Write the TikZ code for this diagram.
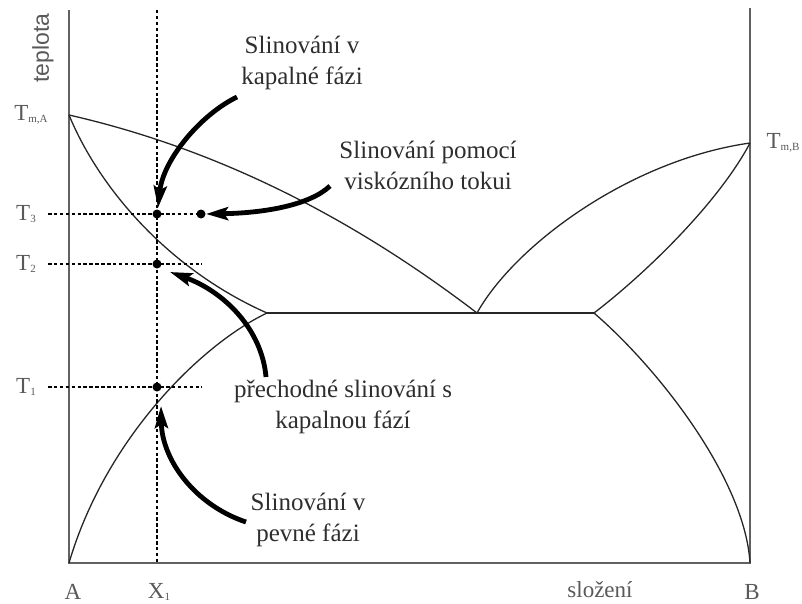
\documentclass[tikz,border=0pt]{standalone}
\usepackage{fontspec}
\setmainfont{Liberation Serif}
\newfontfamily\axsans{Liberation Sans}
\usetikzlibrary{arrows.meta}
\tikzset{
  axisline/.style={draw=black!62, line width=2pt},
  phase/.style={draw=black!85, line width=1.3pt},
  dotline/.style={draw=black, line width=2.1pt, dash pattern=on 3.5pt off 2.4pt},
  pt/.style={circle, fill=black, inner sep=0pt, minimum size=9pt},
  bigarrow/.style={draw=black, line width=4.8pt, -{Stealth[length=22pt,width=13pt,inset=4pt]}},
  lbl/.style={font=\fontsize{25}{31}\selectfont, text=black!82, align=center, inner sep=0pt},
  tl/.style={font=\fontsize{23}{26}\selectfont, text=black!65, inner sep=0pt},
}
\newcommand{\subsm}[1]{\raisebox{-1.5pt}{\fontsize{11}{11}\selectfont #1}}
\begin{document}
\begin{tikzpicture}[x=1pt,y=-1pt]
\useasboundingbox (0,0) rectangle (802,604);
% axes
\draw[axisline] (69,10) -- (69,563) -- (750,563) -- (750,8);
% phase curves
\draw[phase] (69,115) .. controls (205,146) and (341,209) .. (477,313);
\draw[phase] (69,115) .. controls (100,190) and (170,270) .. (267,313);
\draw[phase] (69,563) .. controls (105,440) and (200,345) .. (267,313);
\draw[phase] (267,313) -- (594,313);
\draw[phase] (477,313) .. controls (515,245) and (630,160) .. (750,143);
\draw[phase] (594,313) .. controls (650,270) and (720,200) .. (750,143);
\draw[phase] (594,313) .. controls (660,370) and (745,480) .. (750,563);
% dotted guide lines
\coordinate (xtop) at (157,10);
\coordinate (xbot) at (157,563);
\draw[dotline] (xtop) -- (xbot);
\coordinate (t3l) at (48,214);
\coordinate (t2l) at (48,264);
\coordinate (t2r) at (202,264);
\coordinate (t1l) at (48,387);
\coordinate (t1r) at (202,387);
\node[pt] (d3) at (157,214) {};
\node[pt] (dv) at (201,214) {};
\node[pt] (d2) at (157,264) {};
\node[pt] (d1) at (157,387) {};
\draw[dotline] (t3l) -- (dv);
\draw[dotline] (t2l) -- (t2r);
\draw[dotline] (t1l) -- (t1r);
% axis labels
\node[tl, rotate=90] (tep) at (43,48) {\axsans teplota};
\node[tl] (tma) at (31,115) {T\subsm{m,A}};
\node[tl] (tmb) at (783,143) {T\subsm{m,B}};
\node[tl] (T3) at (26,214) {T\subsm{3}};
\node[tl] (T2) at (26,264) {T\subsm{2}};
\node[tl] (T1) at (26,387) {T\subsm{1}};
\node[tl] (lA) at (73,592) {A};
\node[tl] (lX) at (159,592) {X\subsm{1}};
\node[tl] (lsl) at (600,590) {složení};
\node[tl] (lB) at (752,592) {B};
% annotation labels
\node[lbl] (L1) at (302,63) {Slinování v\\kapalné fázi};
\node[lbl] (L2) at (428,165) {Slinování pomocí\\viskózního tokui};
\node[lbl] (L3) at (343,407) {přechodné slinování s\\kapalnou fází};
\node[lbl] (L4) at (308,520) {Slinování v\\pevné fázi};
% arrows
\coordinate (a1s) at (237,97);
\coordinate (a1e) at (158,208);
\draw[bigarrow] (a1s) .. controls (200,115) and (163,160) .. (a1e);
\coordinate (a2s) at (330,186);
\coordinate (a2e) at (206,214);
\draw[bigarrow] (a2s) .. controls (310,205) and (265,213) .. (a2e);
\coordinate (a3s) at (266,377);
\coordinate (a3e) at (170,272);
\draw[bigarrow] (a3s) .. controls (262,330) and (225,292) .. (a3e);
\coordinate (a4s) at (246,522);
\coordinate (a4e) at (161,406);
\draw[bigarrow] (a4s) .. controls (195,505) and (162,460) .. (a4e);
\end{tikzpicture}
\end{document}
